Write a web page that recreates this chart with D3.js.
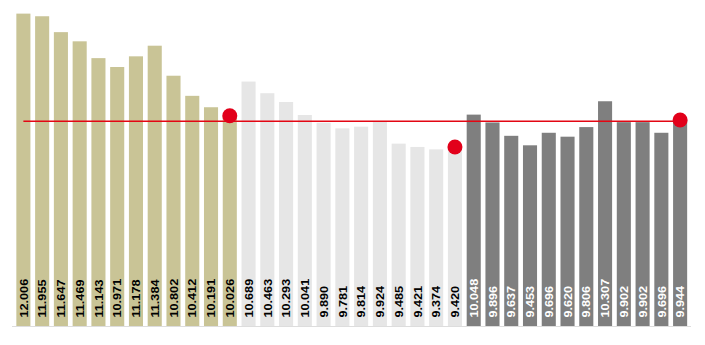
<!DOCTYPE html>
<html>
<head>
<meta charset="utf-8">
<script src="https://cdn.jsdelivr.net/npm/d3@7"></script>
<style>
  body { margin: 0; background: #fff; }
  svg text { font-family: "Liberation Sans", Arial, sans-serif; font-weight: bold; font-size: 11.5px; }
</style>
</head>
<body>
<svg width="705" height="345"></svg>
<script>
// values per group
var groupA = [12.006, 11.955, 11.647, 11.469, 11.143, 10.971, 11.178, 11.384, 10.802, 10.412, 10.191, 10.026];
var groupB = [10.689, 10.463, 10.293, 10.041, 9.890, 9.781, 9.814, 9.924, 9.485, 9.421, 9.374, 9.420];
var groupC = [10.048, 9.896, 9.637, 9.453, 9.696, 9.620, 9.806, 10.307, 9.902, 9.902, 9.696, 9.944];
var groupColors = ["#c9c496", "#e6e6e6", "#7f7f7f"];
var labelColors = ["#000", "#000", "#fff"];
var refValue = 9.92;

var data = [];
[groupA, groupB, groupC].forEach(function(arr, g) {
  arr.forEach(function(v, i) {
    data.push({ id: g * 12 + i, group: g, value: v });
  });
});

var svg = d3.select("svg");

var x = d3.scaleBand()
    .domain(data.map(function(d) { return d.id; }))
    .range([14, 689.5])
    .paddingInner(0.25)
    .paddingOuter(0.125);

var y = d3.scaleLinear()
    .domain([5.95, 12.27])
    .range([326, 0]);

// bars
svg.append("g")
  .selectAll("rect")
  .data(data)
  .enter().append("rect")
    .attr("x", function(d) { return x(d.id); })
    .attr("y", function(d) { return y(d.value); })
    .attr("width", x.bandwidth())
    .attr("height", function(d) { return y(5.95) - y(d.value); })
    .style("fill", function(d) { return groupColors[d.group]; });

// baseline
svg.append("line")
    .attr("x1", 12).attr("x2", 691)
    .attr("y1", 326.5).attr("y2", 326.5)
    .style("stroke", "#dddddd")
    .style("stroke-width", 1);

// value labels
svg.append("g")
  .selectAll("text")
  .data(data)
  .enter().append("text")
    .attr("transform", function(d) {
      return "translate(" + (x(d.id) + x.bandwidth() / 2 + 4.2) + ",317.5) rotate(-90) scale(1.1,1)";
    })
    .style("fill", function(d) { return labelColors[d.group]; })
    .text(function(d) { return d.value.toFixed(3); });

// reference line
var first = data[0], last = data[data.length - 1];
svg.append("line")
    .attr("x1", x(first.id) + x.bandwidth() / 2)
    .attr("x2", x(last.id) + x.bandwidth() / 2)
    .attr("y1", y(refValue)).attr("y2", y(refValue))
    .style("stroke", "#e30613")
    .style("stroke-width", 1.5);

// dots on the last bar of each group
svg.append("g")
  .selectAll("circle")
  .data(data.filter(function(d) { return d.id % 12 === 11; }))
  .enter().append("circle")
    .attr("cx", function(d) { return x(d.id) + x.bandwidth() / 2; })
    .attr("cy", function(d) { return y(d.value); })
    .attr("r", 7.5)
    .style("fill", "#e2001a");
</script>
</body>
</html>
